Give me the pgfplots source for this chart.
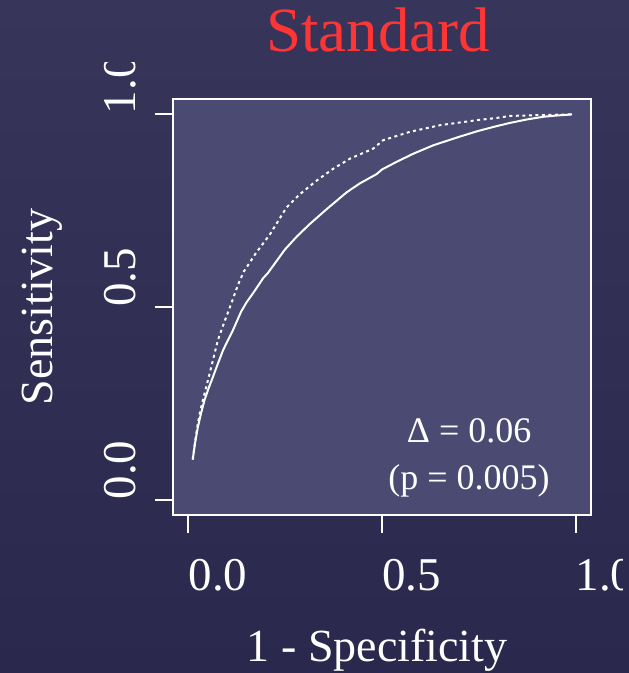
\documentclass[border=0pt]{standalone}
\usepackage{pgfplots}
\pgfplotsset{compat=1.18}
\usepackage{fontspec}
\setmainfont{Liberation Serif}
\definecolor{bgtop}{HTML}{37355A}
\definecolor{bgbot}{HTML}{2A294D}
\definecolor{panel}{HTML}{4A4A72}
\definecolor{titlered}{HTML}{FF3535}
\newcommand\fs[1]{\fontsize{#1}{#1}\selectfont}
\begin{document}
\begin{tikzpicture}[x=1pt,y=1pt]
\useasboundingbox (0,0) rectangle (629,673);
\shade[top color=bgtop, bottom color=bgbot] (0,0) rectangle (629,673);
\node[anchor=base, font=\fs{63}, text=titlered, inner sep=0pt] at (378,621) {Standard};
\begin{scope}
\clip (200,673) -- (622,673) -- (622,0) -- (0,0) -- (0,611) -- (200,611) -- cycle;
\begin{axis}[
  at={(173pt,158pt)}, anchor=south west,
  width=418pt, height=416pt, scale only axis,
  xmin=-0.04, xmax=1.04, ymin=-0.04, ymax=1.04,
  axis background/.style={fill=panel},
  axis line style={white, line width=2pt},
  tick align=outside, major tick length=18pt,
  xtick pos=left, ytick pos=left,
  tick style={white, line width=2pt},
  xtick={0,0.5,1}, xticklabels={0.0,0.5,1.0},
  ytick={0,0.5,1}, yticklabels={0.0,0.5,1.0},
  tick label style={font=\fs{47}, text=white, inner sep=0pt},
  xticklabel style={anchor=base west, yshift=-57pt},
  yticklabel style={xshift=-20pt, rotate=90, anchor=base west},
]
\addplot[white, line width=2pt] coordinates {
(0.011,0.104) (0.017,0.147) (0.024,0.187) (0.032,0.222) (0.041,0.257) (0.052,0.289)
(0.063,0.318) (0.076,0.353) (0.089,0.387) (0.102,0.414) (0.115,0.440) (0.136,0.488)
(0.150,0.512) (0.167,0.536) (0.193,0.575) (0.205,0.588) (0.249,0.649) (0.280,0.683)
(0.313,0.715) (0.357,0.754) (0.409,0.798) (0.443,0.821) (0.486,0.845) (0.500,0.857)
(0.540,0.878) (0.581,0.898) (0.633,0.920) (0.700,0.942) (0.745,0.956) (0.790,0.968)
(0.831,0.978) (0.875,0.987) (0.918,0.994) (0.950,0.997) (0.991,1.0)
};
\addplot[white, line width=2pt, dash pattern=on 3pt off 3.5pt] coordinates {
(0.011,0.104) (0.017,0.150) (0.024,0.196) (0.030,0.228) (0.037,0.257) (0.050,0.309)
(0.063,0.361) (0.076,0.414) (0.093,0.462) (0.111,0.510) (0.128,0.558) (0.143,0.592)
(0.175,0.641) (0.210,0.688) (0.253,0.758) (0.288,0.793) (0.331,0.828) (0.374,0.859)
(0.417,0.885) (0.477,0.911) (0.503,0.933) (0.573,0.955) (0.650,0.972) (0.745,0.985)
(0.790,0.990) (0.831,0.996) (0.900,0.998) (0.991,1.0)
};
\node[anchor=base, font=\fs{36}, text=white, inner sep=0pt] at (axis cs:0.725,0.147) {Δ = 0.06};
\node[anchor=base, font=\fs{36}, text=white, inner sep=0pt] at (axis cs:0.725,0.026) {(p = 0.005)};
\end{axis}
\end{scope}
\node[anchor=base, font=\fs{46}, text=white, inner sep=0pt] at (377,12) {1 - Specificity};
\node[anchor=base, rotate=90, font=\fs{46}, text=white, inner sep=0pt] at (52,366) {Sensitivity};
\end{tikzpicture}
\end{document}
